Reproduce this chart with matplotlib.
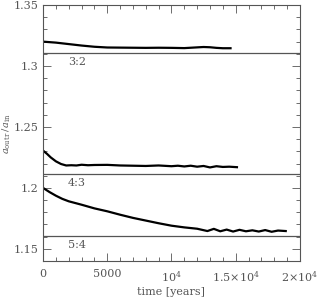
import matplotlib
matplotlib.use("Agg")
import matplotlib.pyplot as plt
from matplotlib.ticker import FixedLocator, MultipleLocator

# resonance locations (a_outr/a_in) and labels
res_values = [1.3104, 1.2114, 1.1604]
res_labels = ["3:2", "4:3", "5:4"]

# orbit 1 (near 3:2)
t1 = [0, 1000, 2000, 3000, 4000, 5000, 6000, 7000, 8000, 9000, 10000, 11000,
      12000, 12500, 13000, 13500, 14000, 14600]
r1 = [1.3200, 1.3192, 1.3180, 1.3168, 1.3158, 1.3152, 1.3151, 1.3150, 1.3149,
      1.3150, 1.3149, 1.3147, 1.3153, 1.3156, 1.3154, 1.3149, 1.3146, 1.3146]

# orbit 2 (near 4:3)
t2 = [0, 300, 600, 1000, 1400, 1800, 2200, 2600, 3000, 3500, 4000, 5000, 6000,
      7000, 8000, 9000, 10000, 10500, 11000, 11500, 12000, 12500, 13000, 13500,
      14000, 14500, 15100]
r2 = [1.2306, 1.2280, 1.2250, 1.2218, 1.2196, 1.2184, 1.2186, 1.2184, 1.2190,
      1.2186, 1.2188, 1.2189, 1.2184, 1.2182, 1.2180, 1.2184, 1.2178, 1.2182,
      1.2176, 1.2182, 1.2174, 1.2180, 1.2168, 1.2178, 1.2172, 1.2174, 1.2170]

# orbit 3 (near 5:4)
t3 = [0, 500, 1000, 1500, 2000, 3000, 4000, 5000, 6000, 7000, 8000, 9000,
      10000, 11000, 12000, 12800, 13300, 13800, 14300, 14800, 15300, 15800,
      16300, 16800, 17300, 17800, 18300, 18900]
r3 = [1.2000, 1.1966, 1.1936, 1.1910, 1.1890, 1.1862, 1.1832, 1.1808, 1.1780,
      1.1754, 1.1732, 1.1710, 1.1690, 1.1676, 1.1665, 1.1646, 1.1664, 1.1644,
      1.1658, 1.1642, 1.1656, 1.1644, 1.1652, 1.1642, 1.1654, 1.1640, 1.1650,
      1.1646]

xticks = [0, 5000, 10000, 15000, 20000]
xticklabels = ["0", "5000", r"10$^4$", r"1.5$\times$10$^4$", r"2$\times$10$^4$"]
yticks = [1.15, 1.2, 1.25, 1.3, 1.35]
yticklabels = ["1.15", "1.2", "1.25", "1.3", "1.35"]

grey = "#555555"
plt.rcParams["font.family"] = "DejaVu Serif"
plt.rcParams["mathtext.fontset"] = "dejavuserif"

fig = plt.figure(figsize=(3.19, 2.99), dpi=100)
ax = fig.add_axes([0.135, 0.127, 0.805, 0.856])

for v in res_values:
    ax.axhline(v, color="#555555", lw=0.9)
for v, lab in zip(res_values, res_labels):
    ax.text(2650, v - 0.0075, lab, ha="center", va="center", fontsize=8, color=grey)

for t, r in [(t1, r1), (t2, r2), (t3, r3)]:
    ax.plot(t, r, color="black", lw=1.6)

ax.set_xlim(0, 20000)
ax.set_ylim(1.14, 1.35)
ax.xaxis.set_major_locator(FixedLocator(xticks))
ax.set_xticklabels(xticklabels)
ax.xaxis.set_minor_locator(MultipleLocator(1000))
ax.yaxis.set_major_locator(FixedLocator(yticks))
ax.set_yticklabels(yticklabels)
ax.yaxis.set_minor_locator(MultipleLocator(0.01))
ax.tick_params(which="both", direction="in", top=True, right=True,
               colors=grey, labelsize=8)
ax.tick_params(which="major", length=6, width=0.6)
ax.tick_params(which="minor", length=3, width=0.6)
ax.tick_params(axis="x", pad=6)
for s in ax.spines.values():
    s.set_color(grey)
    s.set_linewidth(0.8)

ax.set_xlabel("time [years]", fontsize=8, color=grey, labelpad=2)
ax.set_ylabel(r"$a_{\rm outr}\,/\,a_{\rm in}$", fontsize=7, color=grey,
              va="center")
ax.yaxis.set_label_coords(-0.14, 0.5)

fig.savefig("out.png", dpi=100)
